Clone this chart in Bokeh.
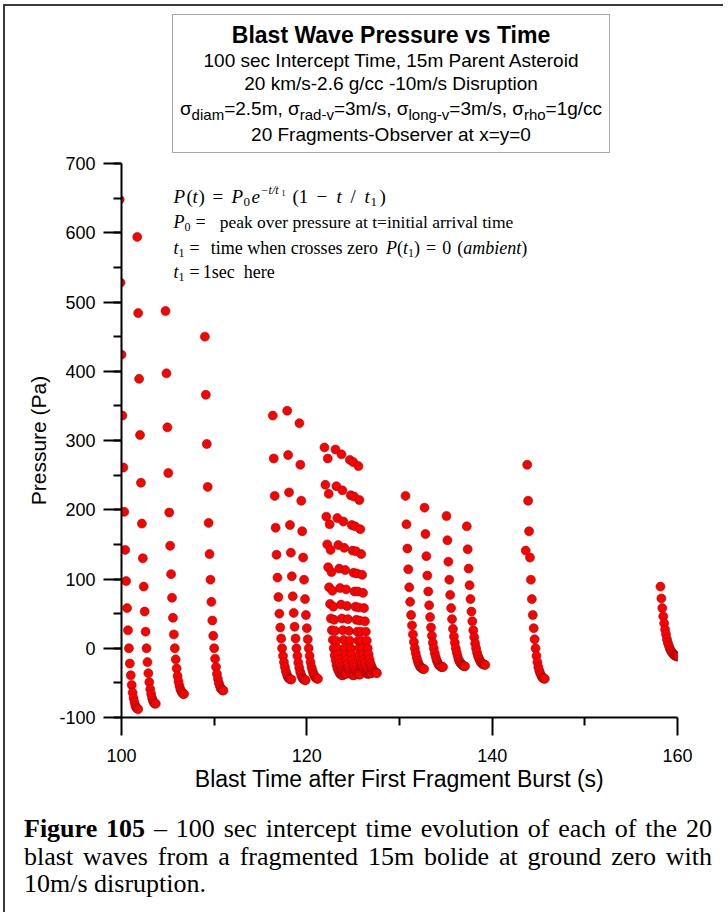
from bokeh.plotting import figure
from bokeh.layouts import column
from bokeh.models import Range1d, FixedTicker, SingleIntervalTicker, Label, Div, PrintfTickFormatter
from bokeh.embed import file_html
from bokeh.resources import INLINE

# ---------------- data ----------------
sample_step = 0.1  # s between plotted samples of one blast wave
arrival_times = [99.8, 101.7, 104.75, 109.0, 116.33, 117.88, 119.2, 121.9, 122.26, 123.09,
                 123.74, 124.64, 125.0, 125.57, 130.65, 132.7, 135.07, 137.26, 143.78, 158.16]
wave_a = [648, 528, 424, 336, 261, 197, 142, 97, 58, 26, 0, -22, -39, -53, -64, -72, -78, -83, -86, -87, -88]
wave_b = [594, 484, 389, 308, 239, 180, 130, 89, 53, 24, 0, -20, -36, -49, -59, -66, -72, -76, -79, -80, -80]
wave_c = [487, 397, 319, 253, 196, 148, 107, 73, 44, 20, 0, -16, -29, -40, -48, -54, -59, -62, -64, -66, -66]
wave_d = [450, 366, 295, 233, 181, 136, 99, 67, 40, 18, 0, -15, -27, -37, -44, -50, -54, -58, -59, -61, -61]
wave_e = [336, 274, 220, 174, 135, 102, 74, 50, 30, 14, 0, -11, -20, -27, -33, -37, -41, -43, -44, -45, -45]
wave_f = [343, 279, 225, 178, 138, 104, 75, 51, 31, 14, 0, -11, -21, -28, -34, -38, -42, -44, -45, -46, -46]
wave_g = [325, 265, 213, 169, 131, 99, 71, 48, 29, 13, 0, -11, -20, -27, -32, -36, -39, -42, -43, -44, -44]
wave_h = [290, 236, 190, 150, 117, 88, 64, 43, 26, 12, 0, -10, -17, -24, -29, -32, -35, -37, -38, -39, -39]
wave_i = [274, 223, 179, 142, 110, 83, 60, 41, 25, 11, 0, -9, -16, -22, -27, -31, -33, -35, -36, -37, -37]
wave_j = [287, 234, 188, 149, 115, 87, 63, 43, 26, 12, 0, -10, -17, -23, -28, -32, -35, -37, -38, -39, -39]
wave_k = [280, 228, 183, 145, 113, 85, 61, 42, 25, 11, 0, -9, -17, -23, -28, -31, -34, -36, -37, -38, -38]
wave_l = [272, 221, 178, 141, 109, 82, 60, 41, 24, 11, 0, -9, -16, -22, -27, -30, -33, -35, -36, -37, -37]
wave_m = [269, 219, 176, 140, 108, 82, 59, 40, 24, 11, 0, -9, -16, -22, -27, -30, -33, -34, -36, -36, -36]
wave_n = [263, 214, 172, 136, 106, 80, 58, 39, 24, 11, 0, -9, -16, -22, -26, -29, -32, -34, -35, -35, -36]
wave_o = [220, 179, 144, 114, 88, 67, 48, 33, 20, 9, 0, -7, -13, -18, -22, -25, -27, -28, -29, -30, -30]
wave_p = [203, 165, 133, 105, 82, 62, 45, 30, 18, 8, 0, -7, -12, -17, -20, -23, -25, -26, -27, -27, -27]
wave_q = [191, 156, 125, 99, 77, 58, 42, 28, 17, 8, 0, -6, -11, -16, -19, -21, -23, -24, -25, -26, -26]
wave_r = [176, 143, 115, 91, 71, 53, 39, 26, 16, 7, 0, -6, -11, -14, -17, -20, -21, -23, -23, -24, -24]
wave_s = [265, 213, 169, 131, 99, 71, 48, 29, 13, 0, -11, -20, -27, -32, -36, -39, -42, -43, -44, -44]
wave_t = [89, 72, 58, 46, 36, 27, 20, 13, 8, 4, 0, -3, -5, -7, -9, -10, -11, -11, -12, -12, -12]
extra_times = [143.62]
extra_pressures = [141]

x_ticks = [100, 120, 140, 160]
x_minor_ticks = [110, 130, 150]

waves = [wave_a, wave_b, wave_c, wave_d, wave_e, wave_f, wave_g, wave_h, wave_i, wave_j,
         wave_k, wave_l, wave_m, wave_n, wave_o, wave_p, wave_q, wave_r, wave_s, wave_t]

xs, ys = [], []
for t0, ps in zip(arrival_times, waves):
    for k, pv in enumerate(ps):
        xs.append(t0 + k * sample_step)
        ys.append(pv)
xs += extra_times
ys += extra_pressures

# ---------------- layout constants (page pixels) ----------------
OX, OY = 5, 6          # content origin after the page border
W = 718
HDR_BOTTOM = 155
MAIN_BOTTOM = 800
CAP_BOTTOM = 912
FL, FT, FR, FB = 121, 163, 677, 717  # chart frame edges

SANS_F = "Liberation Sans"
SERIF_F = "Liberation Serif"

SERIF = {' ': 250, '(': 333, ')': 333, '=': 564, '−': 564, '–': 500, '/': 278, '.': 250, ',': 250,
         'a': 444, 'b': 500, 'c': 444, 'd': 500, 'e': 444, 'f': 333, 'g': 500, 'h': 500, 'i': 278,
         'k': 500, 'l': 278, 'm': 778, 'n': 500, 'o': 500, 'p': 500, 'r': 333, 's': 389, 't': 278,
         'u': 500, 'v': 500, 'w': 722, 'x': 500, 'y': 500, 'z': 444, 'P': 556, 'F': 556}
SERIF_I = dict(SERIF, P=611, a=500, m=722, t=278, e=444)
for d in "0123456789":
    SERIF[d] = 500
    SERIF_I[d] = 500


def tw(s, table, size):
    return sum(table.get(c, 520) for c in s) * size / 1000.0


# ---------------- header: title box (HTML) ----------------
BOX_L, BOX_T, BOX_R, BOX_B = 172, 14, 610, 153
SUB = "font-size:15px; vertical-align:-5px;"


def hline(center_y, html, size, weight="normal", lh=26):
    top = center_y - BOX_T - lh / 2
    return (f'<div style="position:absolute; left:0; width:100%; top:{top}px; '
            f'line-height:{lh}px; font-size:{size}px; font-weight:{weight}; '
            f'text-align:center; white-space:nowrap;">{html}</div>')


sigma_html = (f'σ<span style="{SUB}">diam</span>=2.5m, σ<span style="{SUB}">rad-v</span>=3m/s, '
              f'σ<span style="{SUB}">long-v</span>=3m/s, σ<span style="{SUB}">rho</span>=1g/cc')
box_inner = (hline(34, "Blast Wave Pressure vs Time", 23, "bold", 28)
             + hline(60, "100 sec Intercept Time, 15m Parent Asteroid", 19)
             + hline(83, "20 km/s-2.6 g/cc -10m/s Disruption", 19)
             + hline(108, sigma_html, 19)
             + hline(134, "20 Fragments-Observer at x=y=0", 19))
hdr_html = (f'<div style="position:relative; width:{W}px; height:{HDR_BOTTOM - OY}px; '
            f'font-family:\'{SANS_F}\'; color:black;">'
            f'<div style="position:absolute; box-sizing:border-box; left:{BOX_L - OX}px; '
            f'top:{BOX_T - OY}px; width:{BOX_R - BOX_L}px; height:{BOX_B - BOX_T}px; '
            f'border:1px solid #a8a8a8; background:white;">{box_inner}</div></div>')
hdr = Div(text=hdr_html, width=W, height=HDR_BOTTOM - OY, margin=(0, 0, 0, 0))

# ---------------- main chart ----------------
X0, X1, Y0, Y1 = 100, 160, -100, 700
p = figure(width=W, height=MAIN_BOTTOM - HDR_BOTTOM, x_range=Range1d(X0, X1),
           y_range=Range1d(Y0, Y1), output_backend="svg", toolbar_location=None,
           min_border_left=FL - OX, min_border_right=OX + W - FR,
           min_border_top=FT - HDR_BOTTOM, min_border_bottom=MAIN_BOTTOM - FB)
p.outline_line_color = None
p.grid.visible = False
p.background_fill_color = "white"
p.border_fill_color = "white"

p.scatter(xs, ys, marker="circle", size=9, fill_color="#ff0000",
          line_color="#8a1010", line_width=0.6)

p.xaxis.ticker = FixedTicker(ticks=x_ticks, minor_ticks=x_minor_ticks)
p.yaxis.ticker = SingleIntervalTicker(interval=100, num_minor_ticks=2)
p.yaxis.formatter = PrintfTickFormatter(format="%d")
for ax in (p.xaxis, p.yaxis):
    ax.axis_line_width = 2
    ax.axis_line_color = "black"
    ax.major_tick_line_width = 2
    ax.minor_tick_line_width = 2
    ax.major_tick_line_color = "black"
    ax.minor_tick_line_color = "black"
    ax.major_tick_in = 0
    ax.major_tick_out = 18
    ax.minor_tick_in = 0
    ax.minor_tick_out = 8
    ax.major_label_text_font = SANS_F
    ax.major_label_text_font_size = "18px"
    ax.major_label_text_color = "black"
    ax.axis_label_text_font = SANS_F
    ax.axis_label_text_font_style = "normal"
    ax.axis_label_text_color = "black"
p.xaxis.axis_label = "Blast Time after First Fragment Burst (s)"
p.yaxis.axis_label = "Pressure (Pa)"
p.xaxis.axis_label_text_font_size = "23px"
p.yaxis.axis_label_text_font_size = "21px"
p.xaxis.major_label_standoff = 13
p.yaxis.major_label_standoff = 8
p.xaxis.axis_label_standoff = 1
p.yaxis.axis_label_standoff = 6


def dx(px):
    return X0 + (px - FL) * (X1 - X0) / (FR - FL)


def dy(py):
    return Y1 - (py - FT) * (Y1 - Y0) / (FB - FT)


def plab(px, py, text, size, style="normal"):
    p.add_layout(Label(x=dx(px), y=dy(py), text=text, text_font=SERIF_F,
                       text_font_size=f"{size}px", text_font_style=style, text_align="left",
                       text_baseline="middle", text_color="black"))


FS = 18
I, R = "italic", "normal"
# line 1: P(t) = P0 e^(-t/t1) (1 - t/t1)
for px, py, t, sz, sty in [(173, 196, "P", 19, I), (186, 196, "(", 19, R), (192, 196, "t", 19, I),
                           (198, 196, ")", 19, R), (212, 196, "=", 19, R), (231, 196, "P", 19, I),
                           (243, 201, "0", 13, R), (251, 196, "e", 19, I), (260, 189, "−t/t", 12, I),
                           (281, 192, "1", 8, R), (292, 196, "(1", 19, R), (316, 196, "−", 19, R),
                           (336, 196, "t", 19, I), (350, 196, "/", 19, R), (364, 196, "t", 19, I),
                           (370, 201, "1", 13, R), (379, 196, ")", 19, R)]:
    plab(px, py, t, sz, sty)


def seq(x0, y0, pieces):
    xc = x0
    for item in pieces:
        if isinstance(item, (int, float)):
            xc += item
            continue
        t, sty, size, off = item
        table = SERIF_I if sty == I else SERIF
        plab(xc, y0 + off, t, size, sty)
        xc += tw(t, table, size)


seq(173, 221, [("P", I, FS, 0), ("0", R, 12, 5), 5, ("=", R, FS, 0), 14,
               ("peak over pressure at t=initial arrival time", R, 17.5, 0)])
seq(173, 247, [("t", I, FS, 0), ("1", R, 12, 5), 5, ("=", R, FS, 0), 11,
               ("time when crosses zero", R, FS, 0), 8, ("P", I, FS, 0),
               ("(", R, FS, 0), ("t", I, FS, 0), ("1", R, 12, 5), (")", R, FS, 0), 6,
               ("=", R, FS, 0), 6, ("0", R, FS, 0), 6, ("(", R, FS, 0), ("ambient", I, FS, 0),
               (")", R, FS, 0)])
seq(173, 271, [("t", I, FS, 0), ("1", R, 12, 5), 5, ("=", R, FS, 0), 3,
               ("1sec", R, FS, 0), 9, ("here", R, FS, 0)])

# ---------------- caption (HTML, justified) ----------------
CS = 26
LEFT, RIGHT = 24, 712


def cline(center_y, html, justify=True):
    top = center_y - MAIN_BOTTOM - 14
    last = "text-align-last:justify;" if justify else ""
    return (f'<div style="position:absolute; left:{LEFT - OX}px; width:{RIGHT - LEFT}px; '
            f'top:{top}px; line-height:28px; font-size:{CS}px; white-space:nowrap; '
            f'text-align:justify; {last}">{html}</div>')


cap_html = (f'<div style="position:relative; width:{W}px; height:{CAP_BOTTOM - MAIN_BOTTOM}px; '
            f'font-family:\'{SERIF_F}\'; color:black;">'
            + cline(829, "<b>Figure 105</b> – 100 sec intercept time evolution of each of the 20")
            + cline(857, "blast waves from a fragmented 15m bolide at ground zero with")
            + cline(884, "10m/s disruption.", justify=False)
            + '</div>')
cap = Div(text=cap_html, width=W, height=CAP_BOTTOM - MAIN_BOTTOM, margin=(0, 0, 0, 0))

layout = column(hdr, p, cap, spacing=0,
                styles={"margin-left": "3px", "margin-top": "4px",
                        "border-left": "2px solid #3a3a3a", "border-top": "2px solid #3a3a3a"})

open("out.html", "w").write(file_html(layout, INLINE))
